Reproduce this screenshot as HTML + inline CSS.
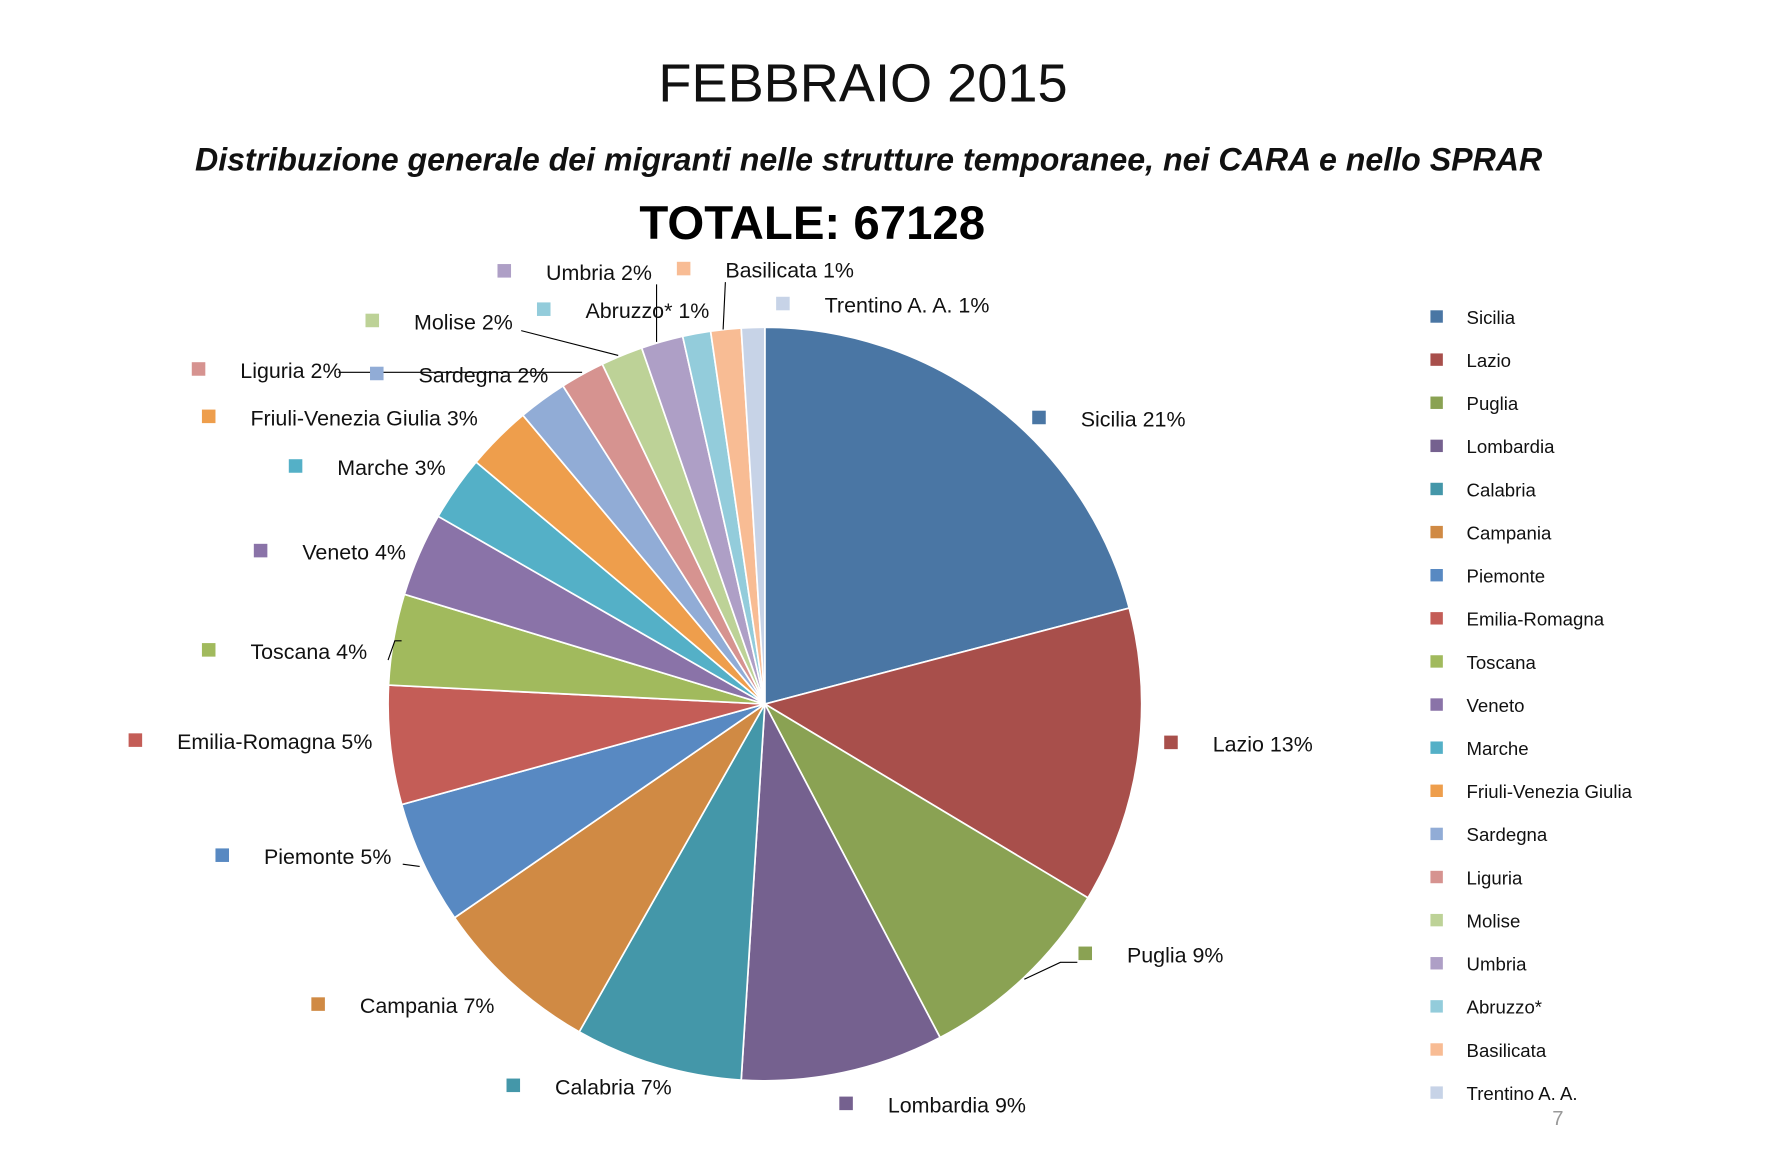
<!DOCTYPE html>
<html><head><meta charset="utf-8"><style>
html,body{margin:0;padding:0;background:#fff;}
svg{display:block;font-family:"Liberation Sans",sans-serif;}
</style></head><body>
<svg width="1770" height="1170" viewBox="0 0 1569 1037">
<text x="765" y="90" text-anchor="middle" font-size="48" fill="#111">FEBBRAIO 2015</text>
<text x="770" y="151" text-anchor="middle" font-size="28.5" font-weight="bold" font-style="italic" fill="#111">Distribuzione generale dei migranti nelle strutture temporanee, nei CARA e nello SPRAR</text>
<text x="720" y="212" text-anchor="middle" font-size="42" font-weight="bold" fill="#000">TOTALE: 67128</text>
<g id="slices"></g>
<g id="leaders" stroke="#000" stroke-width="1" fill="none">
<polyline points="908,868 940,853 955,853"/>
<polyline points="344,585 350,568 356,568"/>
<polyline points="357,766 372,768"/>
<polyline points="300,330 516,330"/>
<polyline points="462,293 548,315"/>
<polyline points="582,252 582,303"/>
<polyline points="643,250 641,292"/>
</g>
<g id="labels" font-size="19" fill="#111"></g>
<g id="legend" font-size="16.5" fill="#111"></g>
<text x="1376" y="997" font-size="18" fill="#999">7</text>
</svg>
<script>
const categories=["Sicilia","Lazio","Puglia","Lombardia","Calabria","Campania","Piemonte","Emilia-Romagna","Toscana","Veneto","Marche","Friuli-Venezia Giulia","Sardegna","Liguria","Molise","Umbria","Abruzzo*","Basilicata","Trentino A. A."];
const values=[20.9,12.7,8.7,8.7,7.2,7.2,5.3,5.1,3.9,3.6,2.8,2.8,2.1,1.9,1.8,1.8,1.2,1.3,1.0];
const percentLabels=["21%","13%","9%","9%","7%","7%","5%","5%","4%","4%","3%","3%","2%","2%","2%","2%","1%","1%","1%"];
const colors=["#4a76a4","#a84f4b","#8aa253","#75618f","#4497a9","#d08a44","#5889c2","#c45d57","#a1ba5d","#8a73a8","#54b0c7","#ee9e4c","#91acd6","#d69390","#bdd297","#ae9fc6","#93ccdb","#f8bc94","#c7d3e7"];
const labelLayout=[[921,370],[1038,658],[962,845],[750,978],[455,962],[282,890],[197,758],[120,656],[185,576],[231,488],[262,413],[185,369],[334,331],[176,327],[330,284],[447,240],[482,274],[606,238],[694,269]];
const NS="http://www.w3.org/2000/svg";
const cx=678,cy=624,r=334;
const total=values.reduce((a,b)=>a+b,0);
function pt(a){return [cx+r*Math.sin(a),cy-r*Math.cos(a)];}
let a0=0;
const gS=document.getElementById('slices'),gL=document.getElementById('labels'),gG=document.getElementById('legend');
values.forEach((v,i)=>{
  const a1=a0+v/total*2*Math.PI;
  const p0=pt(a0),p1=pt(a1);
  const p=document.createElementNS(NS,'path');
  p.setAttribute('d',`M${cx},${cy}L${p0[0]},${p0[1]}A${r},${r} 0 ${a1-a0>Math.PI?1:0} 1 ${p1[0]},${p1[1]}Z`);
  p.setAttribute('fill',colors[i]);p.setAttribute('stroke','#fff');p.setAttribute('stroke-width','1.5');
  
  
  gS.appendChild(p);
  a0=a1;
  const [lx,ly]=labelLayout[i];
  const sq=document.createElementNS(NS,'rect');
  sq.setAttribute('x',lx-6);sq.setAttribute('y',ly-6);sq.setAttribute('width',12);sq.setAttribute('height',12);sq.setAttribute('fill',colors[i]);
  
  
  gL.appendChild(sq);
  const t=document.createElementNS(NS,'text');
  t.setAttribute('x',lx+37);t.setAttribute('y',ly+8);
  t.textContent=categories[i]+' '+percentLabels[i];
  
  
  gL.appendChild(t);
  const ly2=281+i*38.22;
  const ls=document.createElementNS(NS,'rect');
  ls.setAttribute('x',1268);ls.setAttribute('y',ly2-6);ls.setAttribute('width',11);ls.setAttribute('height',11);ls.setAttribute('fill',colors[i]);
  
  
  gG.appendChild(ls);
  const lt=document.createElementNS(NS,'text');
  lt.setAttribute('x',1300);lt.setAttribute('y',ly2+6);lt.textContent=categories[i];
  
  
  gG.appendChild(lt);
});
</script>
</body></html>
